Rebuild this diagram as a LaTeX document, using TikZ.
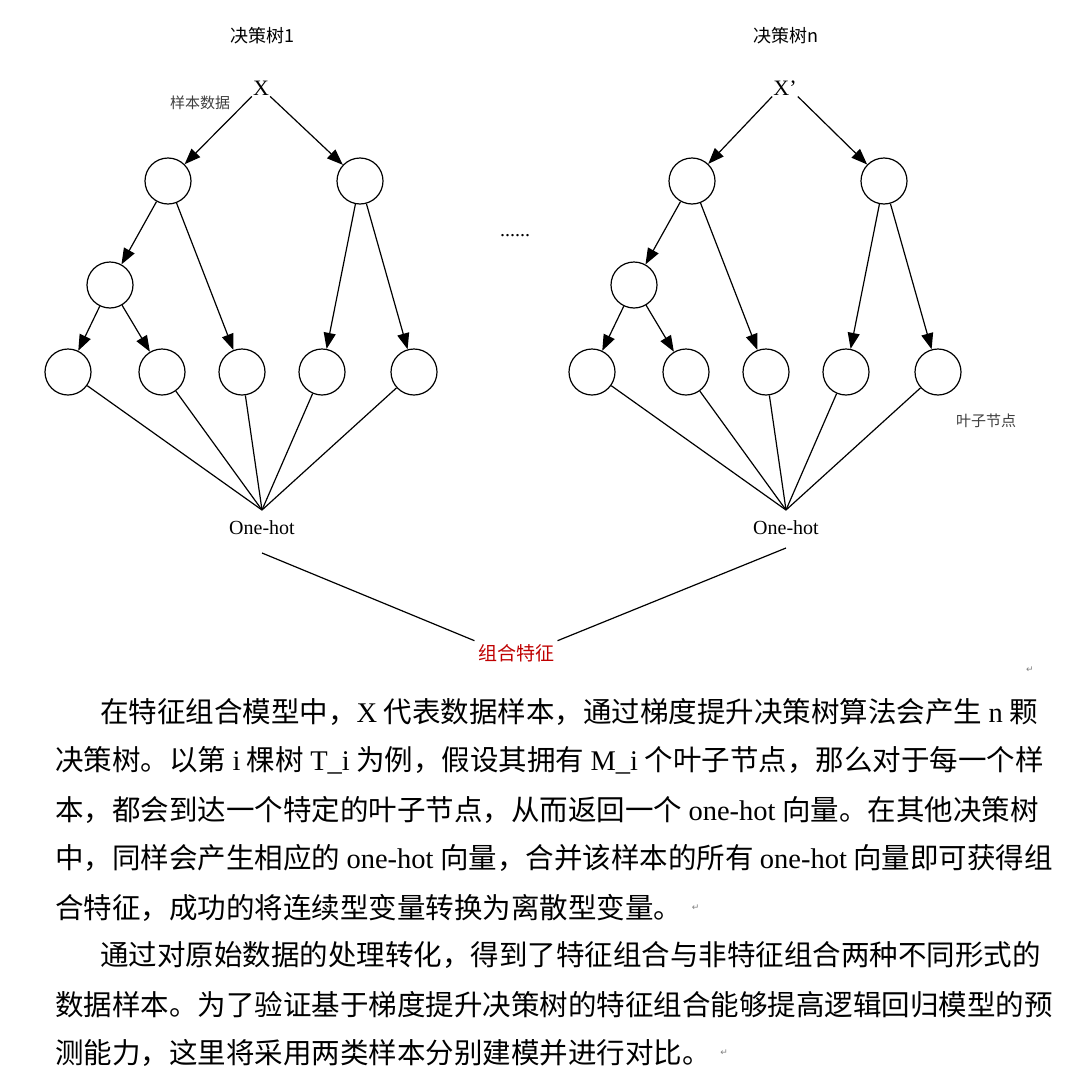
\documentclass[tikz,border=0pt]{standalone}
\usepackage{fontspec}
\setmainfont{Liberation Serif}
\newfontfamily\cjk{Noto Sans CJK SC}
\usetikzlibrary{arrows.meta,positioning}
\tikzset{
  leaf/.style={circle,draw,line width=1.2pt,minimum size=46pt,inner sep=0pt},
  arr/.style={line width=1.2pt,-{Triangle[length=16pt,width=12pt]}},
  ln/.style={line width=1.2pt},
  body/.style={anchor=west,inner sep=0pt,font=\cjk\fontsize{28.5}{32}\selectfont},
  retmark/.style={font=\fontspec{DejaVu Sans}\fontsize{9}{9}\selectfont,text=gray}
}
\begin{document}
\begin{tikzpicture}[x=1pt,y=-1pt]
  \useasboundingbox[fill=white] (0,0) rectangle (1082,1084);
  %trees
  \foreach \dx/\t/\nm/\xx in {0/a/1/X,524/b/n/X'}{
    \begin{scope}[xshift=\dx pt]
    \node[font=\cjk\fontsize{18}{20}\selectfont] (title\t) at (262,36) {决策树\nm};
    \node[font=\fontsize{22}{24}\selectfont,inner sep=1pt] (x\t) at (261,88) {\xx};
    \node[leaf] (p\t) at (168,181) {};
    \node[leaf] (q\t) at (360,181) {};
    \node[leaf] (r\t) at (110,285) {};
    \node[leaf] (l1\t) at (68,372) {};
    \node[leaf] (l2\t) at (162,372) {};
    \node[leaf] (l3\t) at (242,372) {};
    \node[leaf] (l4\t) at (322,372) {};
    \node[leaf] (l5\t) at (414,372) {};
    \coordinate (o\t) at (262,510);
    \node[font=\fontsize{20}{22}\selectfont] (one\t) at (262,528) {One-hot};
    \draw[arr] (x\t.south west) -- (p\t);
    \draw[arr] (x\t.south east) -- (q\t);
    \draw[arr] (p\t) -- (r\t);
    \draw[arr] (p\t) -- (l3\t);
    \draw[arr] (q\t) -- (l4\t);
    \draw[arr] (q\t) -- (l5\t);
    \draw[arr] (r\t) -- (l1\t);
    \draw[arr] (r\t) -- (l2\t);
    \foreach \k in {1,...,5}
      \draw[ln] (l\k\t) -- (o\t);
    \end{scope}
  }
  \node[font=\cjk\fontsize{15}{16}\selectfont,text=black!75] (sample) at (200,103) {样本数据};
  \node[font=\cjk\fontsize{15}{16}\selectfont,text=black!75] (leafname) at (986,421) {叶子节点};
  \node[font=\fontsize{20}{20}\selectfont] (dots) at (515,236) {......};
  %combine
  \node[font=\cjk\fontsize{19}{20}\selectfont,text=red!75!black] (comb) at (516,653) {组合特征};
  \coordinate (ca) at (262,553);
  \coordinate (cb) at (786,548);
  \draw[ln] (ca) -- (comb.north west);
  \draw[ln] (cb) -- (comb.north east);
  \node[retmark] (m0) at (1030,670) {↵};
  %text
  \node[body] (t1) at (100,712) {在特征组合模型中，\textrm{X} 代表数据样本，通过梯度提升决策树算法会产生 \textrm{n} 颗};
  \node[body] (t2) at (55,760) {决策树。以第 \textrm{i} 棵树 \textrm{T\_i} 为例，假设其拥有 \textrm{M\_i} 个叶子节点，那么对于每一个样};
  \node[body] (t3) at (55,810) {本，都会到达一个特定的叶子节点，从而返回一个 \textrm{one-hot} 向量。在其他决策树};
  \node[body] (t4) at (55,858) {中，同样会产生相应的 \textrm{one-hot} 向量，合并该样本的所有 \textrm{one-hot} 向量即可获得组};
  \node[body] (t5) at (55,908) {合特征，成功的将连续型变量转换为离散型变量。};
  \node[retmark,right=6pt of t5] (m1) {↵};
  \node[body] (t6) at (100,955) {通过对原始数据的处理转化，得到了特征组合与非特征组合两种不同形式的};
  \node[body] (t7) at (55,1005) {数据样本。为了验证基于梯度提升决策树的特征组合能够提高逻辑回归模型的预};
  \node[body] (t8) at (55,1053) {测能力，这里将采用两类样本分别建模并进行对比。};
  \node[retmark,right=6pt of t8] (m2) {↵};
\end{tikzpicture}
\end{document}
